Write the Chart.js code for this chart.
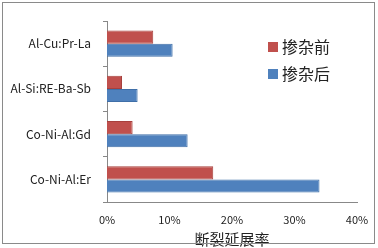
<!DOCTYPE html>
<html><head><meta charset="utf-8">
<script src="https://cdn.jsdelivr.net/npm/chart.js@4"></script>
<style>html,body{margin:0;padding:0;background:#fff;}#wrap{width:378px;height:248px;position:relative;}</style>
</head><body><div id="wrap"><canvas id="c" width="378" height="248"></canvas></div>
<script>
const categories = ["Al-Cu:Pr-La", "Al-Si:RE-Ba-Sb", "Co-Ni-Al:Gd", "Co-Ni-Al:Er"];
const seriesNames = ["掺杂前", "掺杂后"];
const before = [7.4, 2.4, 4.1, 17.0];
const after = [10.5, 4.9, 12.9, 34.0];
const xTicks = [0, 10, 20, 30, 40];
const axisTitle = "断裂延展率";
const colors = ["#C0504D", "#4F81BD"];
const borders = ["#A7403D", "#3F6FA8"];
const FONT = "'Noto Sans CJK SC', 'Liberation Sans', sans-serif";

const legendPlugin = {
  id: 'customLegend',
  afterDraw(chart) {
    const ctx = chart.ctx;
    ctx.save();
    ctx.font = "16px " + FONT;
    ctx.textBaseline = 'middle';
    chart.data.datasets.forEach((ds, i) => {
      const y = 47 + i * 27;
      ctx.fillStyle = ds.backgroundColor;
      ctx.fillRect(268, y - 5, 10, 10);
      ctx.fillStyle = '#222';
      ctx.fillText(ds.label, 282, y);
    });
    ctx.restore();
  }
};
const framePlugin = {
  id: 'frame',
  afterDraw(chart) {
    const ctx = chart.ctx;
    ctx.save();
    ctx.strokeStyle = '#8a8a8a';
    ctx.lineWidth = 1;
    ctx.strokeRect(2.5, 2.5, 372, 241);
    ctx.restore();
  }
};

new Chart(document.getElementById('c'), {
  type: 'bar',
  data: {
    labels: categories,
    datasets: [
      {label: seriesNames[0], data: before, backgroundColor: colors[0], borderColor: borders[0], borderWidth: 1, categoryPercentage: 0.58, barPercentage: 1},
      {label: seriesNames[1], data: after, backgroundColor: colors[1], borderColor: borders[1], borderWidth: 1, categoryPercentage: 0.58, barPercentage: 1}
    ]
  },
  options: {
    indexAxis: 'y',
    responsive: false,
    animation: false,
    layout: {padding: {left: 0, right: 21, top: 21, bottom: 0}},
    plugins: {legend: {display: false}, tooltip: {enabled: false}},
    scales: {
      x: {
        min: 0, max: 40,
        afterBuildTicks(scale) { scale.ticks = xTicks.map(v => ({value: v})); },
        grid: {display: false, drawOnChartArea: false, drawTicks: true, tickLength: 5, color: '#888'},
        border: {display: true, color: '#888', width: 1},
        ticks: {color: '#222', font: {size: 11, family: FONT}, padding: 6, callback: v => v + '%', maxRotation: 0},
        title: {display: true, text: axisTitle, color: '#222', font: {size: 15, family: FONT}, padding: {top: -4, bottom: 0}},
        afterFit(scale) { scale.height = 46; }
      },
      y: {
        grid: {display: true, drawOnChartArea: false, drawTicks: true, tickLength: 4, color: '#888', offset: true},
        border: {display: true, color: '#888', width: 1},
        ticks: {color: '#222', font: {size: 12, family: FONT}, padding: 12},
        afterFit(scale) { scale.width = 107; }
      }
    }
  },
  plugins: [legendPlugin, framePlugin]
});
</script></body></html>
